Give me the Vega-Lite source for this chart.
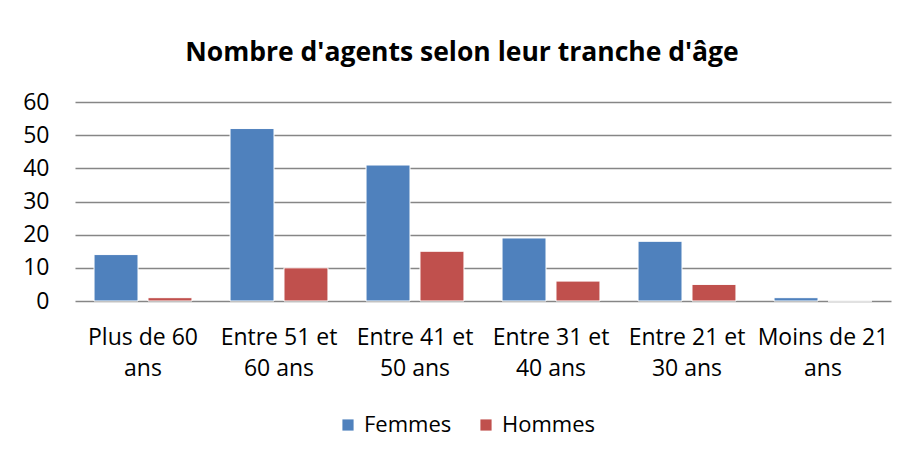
{
  "$schema": "https://vega.github.io/schema/vega-lite/v6.json",
  "width": 816,
  "height": 199,
  "autosize": {"type": "none"},
  "padding": {"left": 75, "top": 102, "right": 18, "bottom": 158},
  "background": "white",
  "title": {
    "text": "Nombre d'agents selon leur tranche d'âge",
    "font": "Open Sans",
    "fontSize": 26.5,
    "fontWeight": "bold",
    "color": "#000000",
    "anchor": "middle",
    "dx": -21,
    "offset": 25
  },
  "data": {
    "values": [
      {"tranche": "Plus de 60 ans", "sexe": "Femmes", "nombre": 14},
      {"tranche": "Plus de 60 ans", "sexe": "Hommes", "nombre": 1},
      {"tranche": "Entre 51 et 60 ans", "sexe": "Femmes", "nombre": 52},
      {"tranche": "Entre 51 et 60 ans", "sexe": "Hommes", "nombre": 10},
      {"tranche": "Entre 41 et 50 ans", "sexe": "Femmes", "nombre": 41},
      {"tranche": "Entre 41 et 50 ans", "sexe": "Hommes", "nombre": 15},
      {"tranche": "Entre 31 et 40 ans", "sexe": "Femmes", "nombre": 19},
      {"tranche": "Entre 31 et 40 ans", "sexe": "Hommes", "nombre": 6},
      {"tranche": "Entre 21 et 30 ans", "sexe": "Femmes", "nombre": 18},
      {"tranche": "Entre 21 et 30 ans", "sexe": "Hommes", "nombre": 5},
      {"tranche": "Moins de 21 ans", "sexe": "Femmes", "nombre": 1},
      {"tranche": "Moins de 21 ans", "sexe": "Hommes", "nombre": 0}
    ]
  },
  "mark": {"type": "bar", "stroke": "white", "strokeWidth": 1},
  "encoding": {
    "x": {
      "field": "tranche",
      "type": "nominal",
      "sort": null,
      "scale": {"paddingInner": 0.28, "paddingOuter": 0.14},
      "axis": {
        "title": null,
        "labelAngle": 0,
        "labelFont": "Open Sans",
        "labelFontSize": 23,
        "labelColor": "#000000",
        "labelPadding": 25,
        "labelLineHeight": 31,
        "ticks": false,
        "domain": false,
        "labelExpr": "indexof(datum.label, ' et ') >= 0 ? [slice(datum.label, 0, indexof(datum.label, ' et ') + 3), slice(datum.label, indexof(datum.label, ' et ') + 4)] : [slice(datum.label, 0, lastindexof(datum.label, ' ')), slice(datum.label, lastindexof(datum.label, ' ') + 1)]"
      }
    },
    "xOffset": {
      "field": "sexe",
      "type": "nominal",
      "scale": {"paddingInner": 0.185, "paddingOuter": 0}
    },
    "y": {
      "field": "nombre",
      "type": "quantitative",
      "scale": {"domain": [0, 60]},
      "axis": {
        "title": null,
        "values": [0, 10, 20, 30, 40, 50, 60],
        "labelFont": "Open Sans",
        "labelFontSize": 23,
        "labelColor": "#000000",
        "labelPadding": 26,
        "ticks": false,
        "domain": false,
        "grid": true,
        "gridColor": "#868686",
        "gridWidth": 1.5
      }
    },
    "color": {
      "field": "sexe",
      "type": "nominal",
      "scale": {"domain": ["Femmes", "Hommes"], "range": ["#4F81BD", "#C0504D"]},
      "legend": {
        "title": null,
        "orient": "none",
        "legendX": 262,
        "legendY": 312,
        "direction": "horizontal",
        "symbolType": "square",
        "symbolSize": 125,
        "symbolStrokeWidth": 0,
        "symbolOffset": 0,
        "labelFont": "Open Sans",
        "labelFontSize": 22,
        "labelColor": "#000000",
        "labelOffset": 5,
        "columnPadding": 23
      }
    }
  },
  "config": {
    "view": {"stroke": null}
  }
}
